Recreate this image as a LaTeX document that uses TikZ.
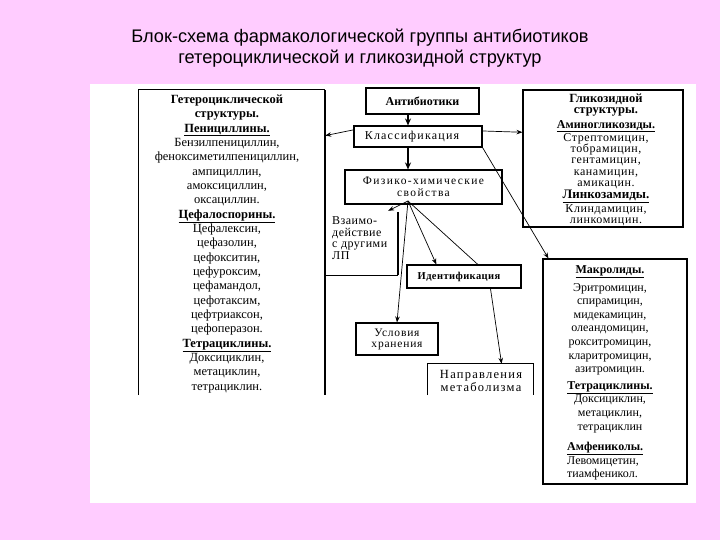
\documentclass[tikz,border=0pt]{standalone}
\usepackage{fontspec}
\setmainfont{Liberation Serif}
\newfontfamily\titlefont{Liberation Sans}
\usetikzlibrary{calc,arrows.meta}
\definecolor{bgpink}{RGB}{255,204,255}
\newcommand{\fsz}[2]{\fontsize{#1}{#2}\selectfont}
\newcommand{\lsp}[1]{\addfontfeature{LetterSpace=#1}}
\begin{document}
\begin{tikzpicture}[x=1pt,y=-1pt,
  box/.style={draw,line width=1.1pt,inner sep=0pt},
  frame/.style={inner sep=0pt},
  txt/.style={inner sep=0pt,align=center},
  arr/.style={-{Stealth[length=6pt,width=4.5pt]},line width=0.7pt},
  thickarr/.style={-{Stealth[length=7pt,width=6pt]},line width=2.2pt},
  edge/.style={line width=1.1pt},
  thickedge/.style={line width=2pt},
]
\fill[bgpink] (0,0) rectangle (720,540);
\fill[white] (90,84) rectangle (696,503);
\useasboundingbox (0,0) rectangle (720,540);

% title
\node[txt,font=\titlefont\fsz{18.2}{21}] (title) at (360,48.5)
  {Блок-схема фармакологической группы антибиотиков\\гетероциклической и гликозидной структур};

% left box (open bottom)
\node[frame,minimum width=186pt,minimum height=305pt] (het) at (232,242.5) {};
\draw[edge] (het.south west) -- (het.north west) -- (het.north east);
\draw[thickedge] (het.north east) -- (het.south east);
\node[txt,anchor=north,font=\fsz{12.5}{14.35}] (hettxt) at (227,94.5) {%
  \textbf{Гетероциклической}\\
  \textbf{структуры.}\\
  \textbf{\underline{Пенициллины.}}\\
  Бензилпенициллин,\\
  феноксиметилпенициллин,\\
  ампициллин,\\
  амоксициллин,\\
  оксациллин.\\
  \textbf{\underline{Цефалоспорины.}}\\
  Цефалексин,\\
  цефазолин,\\
  цефокситин,\\
  цефуроксим,\\
  цефамандол,\\
  цефотаксим,\\
  цефтриаксон,\\
  цефоперазон.\\
  \textbf{\underline{Тетрациклины.}}\\
  Доксициклин,\\
  метациклин,\\
  тетрациклин.};

% right top box
\node[box,minimum width=160pt,minimum height=137pt] (gly) at (603,158.5) {};
\node[txt,anchor=north,font=\fsz{12}{11.4}] (glytxt) at (606,93.5) {%
  \textbf{\fsz{12.5}{11.4}Гликозидной}\\
  \textbf{\fsz{12.5}{11.4}структуры.}\\[3pt]
  \textbf{\underline{Аминогликозиды.}}\\
  {\lsp{5}Стрептомицин,}\\
  {\lsp{5}тобрамицин,}\\
  {\lsp{5}гентамицин,}\\
  {\lsp{5}канамицин,}\\
  {\lsp{5}амикацин.}\\[0.6pt]
  \textbf{\underline{\fsz{13}{11.4}Линкозамиды.}}\\[0.4pt]
  {\lsp{5}Клиндамицин,}\\
  {\lsp{5}линкомицин.}};

% right bottom box
\node[box,minimum width=144pt,minimum height=225pt] (macr) at (615,371.5) {};
\node[txt,anchor=north,font=\fsz{12}{13.6}] (macrtxt) at (610,265.5) {%
  \textbf{\underline{Макролиды.}}\\[4pt]
  Эритромицин,\\
  спирамицин,\\
  мидекамицин,\\
  олеандомицин,\\
  рокситромицин,\\
  кларитромицин,\\
  азитромицин.\\[3pt]
  \textbf{\underline{Тетрациклины.}}\\
  Доксициклин,\\
  метациклин,\\
  тетрациклин};
\node[txt,align=left,anchor=north west,font=\fsz{12}{13.6}] (amftxt) at (567,442) {%
  \textbf{\underline{Амфениколы.}}\\
  Левомицетин,\\
  тиамфеникол.};

% center boxes
\node[box,minimum width=113pt,minimum height=26pt,font=\bfseries\fsz{12}{14}] (anti) at (422.5,101) {Антибиотики};
\node[box,minimum width=128pt,minimum height=21pt,font=\fsz{12}{14}\lsp{10}] (klass) at (418,136.5) {\hspace*{-12pt}Классификация};
\node[box,minimum width=157pt,minimum height=34pt,align=center,font=\fsz{11.5}{12}\lsp{12}] (fiz) at (423.5,187) {Физико-химические\\свойства};
\node[frame,minimum width=73pt,minimum height=63pt] (vz) at (361.5,243.5) {};
\draw[thickedge] (vz.north east) -- (vz.south east);
\draw[edge] (vz.south east) -- (vz.south west);
\node[txt,align=left,anchor=north west,font=\fsz{12}{11.5}\lsp{4}] (vztxt) at (332,216.5) {Взаимо-\\действие\\с другими\\ЛП};
\node[box,minimum width=114pt,minimum height=23pt,font=\bfseries\fsz{10.5}{12}\lsp{4}] (ident) at (464,276.5) {\hspace*{-10pt}Идентификация};
\node[box,minimum width=82pt,minimum height=32pt,align=center,font=\fsz{11.5}{11}\lsp{7}] (usl) at (397,339) {Условия\\хранения};
\node[frame,minimum width=105pt,minimum height=31pt] (napr) at (480.5,379.5) {};
\draw[edge] (napr.south west) -- (napr.north west) -- (napr.north east) -- (napr.south east);
\node[txt,anchor=north,font=\fsz{12.5}{13}\lsp{10}] (naprtxt) at (481,370) {Направления\\метаболизма};

% connectors
\coordinate (ax) at (408,0);
\coordinate (fo) at (408,201);
\draw[thickarr] (anti.south -| ax) -- (klass.north -| ax);
\draw[thickarr] (klass.south -| ax) -- (fiz.north -| ax);
\draw[arr] ($(klass.north west)!0.2!(klass.south west)$) -- ($(het.north east)!0.15!(het.south east)$);
\draw[arr] ($(klass.north east)!0.25!(klass.south east)$) -- ($(gly.north west)!0.31!(gly.south west)$);
\draw[arr] (klass.south east) -- ($(macr.north west)+(6,0)$);
\draw[arr] (fo) -- ($(vz.north east)+(-10,-1)$);
\draw[arr] (fo) -- (usl.north);
\draw[arr] (fo) -- ($(ident.north west)!0.26!(ident.north east)$);
\draw[line width=0.7pt] (fo) -- ($(ident.north west)!0.62!(ident.north east)$);
\draw[arr] ($(ident.south west)!0.73!(ident.south east)$) -- ($(napr.north west)!0.7!(napr.north east)$);
\end{tikzpicture}
\end{document}
